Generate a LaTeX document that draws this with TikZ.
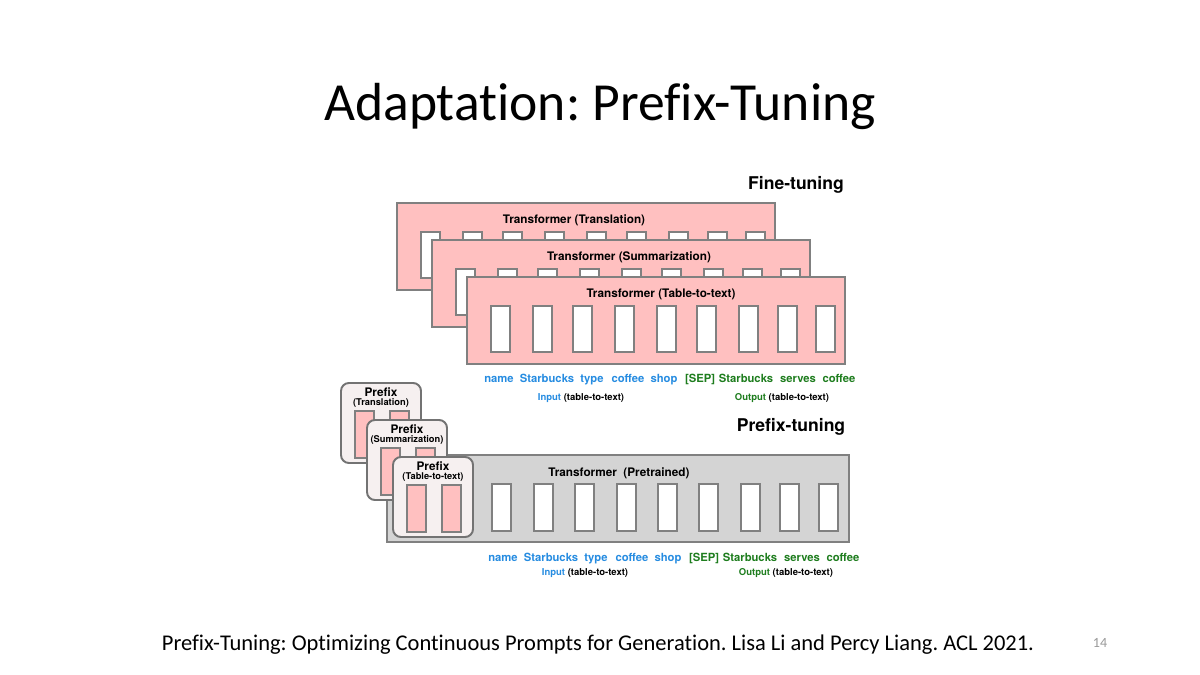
\documentclass[tikz,border=0pt]{standalone}
\usepackage{fontspec}
\setmainfont{Carlito}[Ligatures={NoCommon}]
\newfontfamily\heros{TeX Gyre Heros}
\usepackage{xcolor}
\usepackage{tikz}
\usetikzlibrary{calc}
\frenchspacing

\newcommand\fsz[1]{\fontsize{#1}{#1}\selectfont}

\definecolor{ftpink}{RGB}{255,192,192}
\definecolor{boxline}{RGB}{128,128,128}
\definecolor{pregray}{RGB}{212,212,212}
\definecolor{pfxbg}{RGB}{246,240,240}
\definecolor{tokblue}{RGB}{38,140,225}
\definecolor{tokgreen}{RGB}{30,125,30}

\begin{document}
\begin{tikzpicture}[x=0.02cm, y=-0.02cm,
    ftbox/.style={draw=boxline, fill=ftpink, line width=0.8pt},
    ptbox/.style={draw=boxline, fill=pregray, line width=0.8pt},
    pfxbox/.style={draw=gray!90!black, fill=pfxbg, line width=1.1pt, rounded corners=4.5pt},
    slot/.style={draw=boxline, fill=white, line width=0.6pt},
    pinkslot/.style={draw=boxline, fill=ftpink, line width=0.6pt},
    boxlabel/.style={font=\heros\bfseries\fsz{6.7}, inner sep=0pt},
    sublabel/.style={font=\heros\bfseries\fsz{5.3}, inner sep=0pt},
    heading/.style={font=\heros\bfseries\fsz{10}, inner sep=0pt},
    tok/.style={font=\heros\bfseries\fsz{6.4}, inner sep=0pt, anchor=base},
    tokinfo/.style={font=\heros\bfseries\fsz{5.4}, inner sep=0pt, anchor=base}]

    % Slide
    \fill[white] (0,0) rectangle (1200,675);
    \useasboundingbox (0,0) rectangle (1200,675);
    \node[anchor=base, font=\fsz{30.5}, inner sep=0pt] (title) at (600,121) {Adaptation: Prefix-Tuning};

    % Fine-tuning: one transformer per task
    \node[heading] (fthead) at (796,185) {Fine-tuning};
    \foreach \t/\lx [count=\k from 0] in {Translation/177,Summarization/197,Table-to-text/194}{
        \coordinate (ft\k) at (397+35*\k, 203+37*\k);
        \draw[ftbox] (ft\k) rectangle ++(378,87);
        \node[boxlabel] (ftlab\k) at ($(ft\k)+(\lx,17)$) {Transformer (\t)};
        \foreach \dx in {24,66,106,148,190,230,272,311,349}
            \draw[slot] ($(ft\k)+(\dx,29)$) rectangle ++(19,46);
    }

    % Prefix-tuning: one frozen transformer
    \node[heading] (pthead) at (791,427) {Prefix-tuning};
    \coordinate (pt) at (387,455);
    \draw[ptbox] (pt) rectangle (849,542);
    \node[boxlabel] (ptlab) at (619,473) {Transformer\ \ (Pretrained)};
    \foreach \x in {492,534,575,617,658,699,741,780,819}
        \draw[slot] (\x,484) rectangle ++(19,47);

    % Prefixes, one per task
    \foreach \t [count=\k from 0] in {Translation,Summarization,Table-to-text}{
        \coordinate (pfx\k) at (341+26*\k, 383+37*\k);
        \draw[pfxbox] (pfx\k) rectangle ++(80,80);
        \node[boxlabel, anchor=base] (pfxlab\k) at ($(pfx\k)+(40,13.5)$) {Prefix};
        \node[sublabel, anchor=base] (pfxsub\k) at ($(pfx\k)+(40,22)$) {(\t)};
        \draw[pinkslot] ($(pfx\k)+(14,28)$) rectangle ++(19,47);
        \draw[pinkslot] ($(pfx\k)+(49,28)$) rectangle ++(19,47);
    }

    % Token rows
    \foreach \r/\sx/\ty/\iy in {ft/0/382/400.5, pt/4/561/575.5}{
        \foreach \x/\w [count=\n] in {499/name,547/Starbucks,592/type,628/coffee,664/shop}
            \node[tok, text=tokblue] (\r in\n) at (\x+\sx,\ty) {\w};
        \foreach \x/\w [count=\n] in {700/{[SEP]},746/Starbucks,798/serves,839/coffee}
            \node[tok, text=tokgreen] (\r out\n) at (\x+\sx,\ty) {\w};
        \node[tokinfo] (\r input) at (581+\sx,\iy) {\textcolor{tokblue}{Input} (table-to-text)};
        \node[tokinfo] (\r output) at (782+\sx,\iy) {\textcolor{tokgreen}{Output} (table-to-text)};
    }

    % Footer
    \node[font=\fsz{12.8}, inner sep=0pt] (cite) at (598,645) {Prefix-Tuning: Optimizing Continuous Prompts for Generation. Lisa Li and Percy Liang. ACL 2021.};
    \node[font=\fsz{8}, text=gray!80, inner sep=0pt] (pagenum) at (1100,643) {14};
\end{tikzpicture}
\end{document}
